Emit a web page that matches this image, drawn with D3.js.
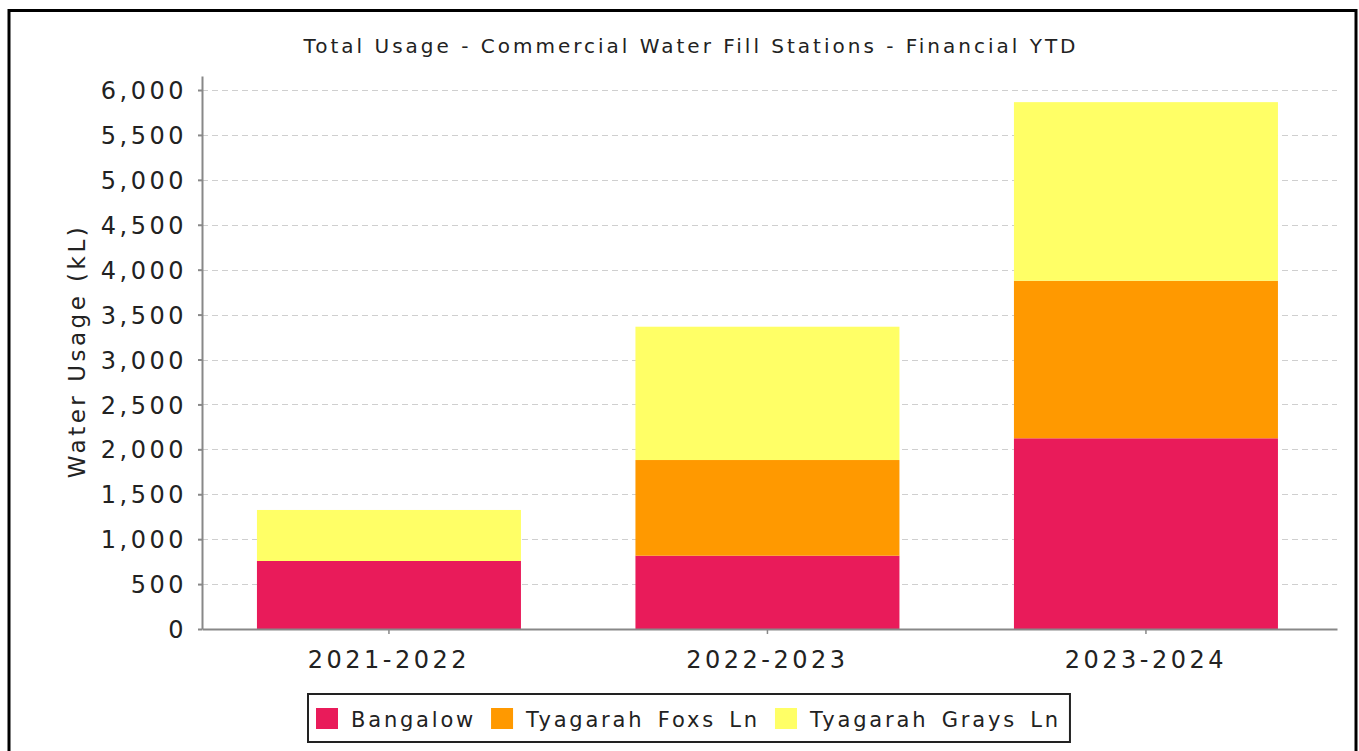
<!DOCTYPE html>
<html>
<head>
<meta charset="utf-8">
<script src="https://cdn.jsdelivr.net/npm/d3@7"></script>
<style>
  body { margin: 0; background: #fff; }
  svg text { font-family: "DejaVu Sans", Verdana, sans-serif; fill: #222; }
</style>
</head>
<body>
<svg id="chart" width="1359" height="751"></svg>
<script>
var years = ["2021-2022", "2022-2023", "2023-2024"]
var seriesNames = ["Bangalow", "Tyagarah Foxs Ln", "Tyagarah Grays Ln"]
var bangalow = [757, 816, 2123]
var foxsLn = [0, 1065, 1754]
var graysLn = [568, 1484, 1988]
var colors = ["#e91b5a", "#ff9900", "#ffff66"]
var yTicks = [0, 500, 1000, 1500, 2000, 2500, 3000, 3500, 4000, 4500, 5000, 5500, 6000]

var svg = d3.select("#chart")
var plotLeft = 202, plotRight = 1337, plotTop = 76, plotBottom = 629

// frame
svg.append("rect")
  .attr("x", 9).attr("y", 10.5)
  .attr("width", 1347).attr("height", 800)
  .attr("fill", "none").attr("stroke", "#000").attr("stroke-width", 3)

var rows = years.map(function(y, i) {
  return {year: y, "Bangalow": bangalow[i], "Tyagarah Foxs Ln": foxsLn[i], "Tyagarah Grays Ln": graysLn[i]}
})
var stack = d3.stack().keys(seriesNames)(rows)

var x = d3.scaleBand().domain(years).range([plotLeft, plotRight])
  .paddingInner(0.3025).paddingOuter(0.1506).align(0.482)
var y = d3.scaleLinear().domain([0, 6156]).range([plotBottom, plotTop])
var color = d3.scaleOrdinal().domain(seriesNames).range(colors)

// grid
svg.append("g").selectAll("line")
  .data(yTicks.filter(function(d) { return d > 0 }))
  .join("line")
  .attr("x1", plotLeft).attr("x2", plotRight)
  .attr("y1", function(d) { return Math.round(y(d)) + 0.5 })
  .attr("y2", function(d) { return Math.round(y(d)) + 0.5 })
  .attr("stroke", "#cfcfcf").attr("stroke-width", 1)
  .attr("stroke-dasharray", "6,4")

// bars
svg.append("g").selectAll("g")
  .data(stack)
  .join("g")
  .attr("fill", function(d) { return color(d.key) })
  .selectAll("rect")
  .data(function(d) { return d })
  .join("rect")
  .attr("x", function(d) { return x(d.data.year) })
  .attr("width", x.bandwidth())
  .attr("y", function(d) { return y(d[1]) })
  .attr("height", function(d) { return y(d[0]) - y(d[1]) })

// y axis
var yAxis = svg.append("g")
  .attr("transform", "translate(" + plotLeft + ",0)")
  .call(d3.axisLeft(y).tickValues(yTicks).tickFormat(d3.format(",")).tickSizeInner(4).tickSizeOuter(0).tickPadding(11))
yAxis.select(".domain").attr("stroke", "#888").attr("stroke-width", 2)
yAxis.selectAll(".tick line").attr("stroke", "#888").attr("stroke-width", 2)
yAxis.selectAll("text")
  .style("font-size", "24px").style("letter-spacing", "3.5px")
  .attr("fill", "#222")
  .attr("dy", "0.36em")

// x axis
var xAxis = svg.append("g")
  .attr("transform", "translate(0," + plotBottom + ")")
  .call(d3.axisBottom(x).tickSizeInner(5).tickSizeOuter(0).tickPadding(17))
xAxis.select(".domain").attr("stroke", "#888").attr("stroke-width", 2)
xAxis.selectAll(".tick line").attr("stroke", "#888").attr("stroke-width", 1.5)
xAxis.selectAll("text")
  .style("font-size", "24px").style("letter-spacing", "3.5px")
  .attr("fill", "#222")

// title
svg.append("text")
  .attr("x", 691).attr("y", 53)
  .attr("text-anchor", "middle")
  .style("font-size", "20px").style("letter-spacing", "3px")
  .text("Total Usage - Commercial Water Fill Stations - Financial YTD")

// y label
svg.append("text")
  .attr("transform", "translate(85,351) rotate(-90)")
  .attr("text-anchor", "middle")
  .style("font-size", "23px").style("letter-spacing", "3.5px")
  .text("Water Usage (kL)")

// legend
var legend = svg.append("g")
var lx = 316
var lastEnd = lx
seriesNames.forEach(function(name, i) {
  legend.append("rect")
    .attr("x", lx).attr("y", 708).attr("width", 22).attr("height", 21)
    .attr("fill", colors[i])
  var t = legend.append("text")
    .attr("x", lx + 35).attr("y", 727)
    .style("font-size", "21px").style("letter-spacing", "2.8px").style("word-spacing", "4px")
    .text(name)
  lastEnd = lx + 35 + t.node().getComputedTextLength()
  lx = lastEnd + 15
})
legend.insert("rect", ":first-child")
  .attr("x", 308).attr("y", 694)
  .attr("width", lastEnd + 9 - 308).attr("height", 48)
  .attr("fill", "#fff").attr("stroke", "#222").attr("stroke-width", 2)
</script>
</body>
</html>
